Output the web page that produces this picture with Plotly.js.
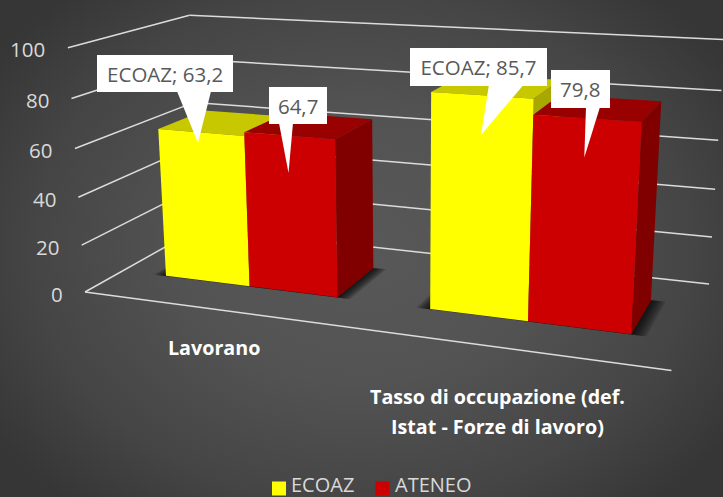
<!DOCTYPE html>
<html><head><meta charset="utf-8">
<script src="https://cdn.plot.ly/plotly-3.0.1.min.js"></script>
<style>
html,body{margin:0;padding:0;width:723px;height:497px;overflow:hidden;
background:radial-gradient(ellipse 440px 340px at 50% 50%,#585858 0%,#535353 40%,#454545 75%,#363636 100%);}
#c{width:723px;height:497px;}
</style></head><body><div id="c"></div>
<script>
// ---- data
const categories = ['Lavorano', 'Tasso di occupazione (def.<br>Istat - Forze di lavoro)'];
const seriesNames = ['ECOAZ', 'ATENEO'];
const ecoaz = [63.2, 85.7];
const ateneo = [64.7, 79.8];
const valueTicks = [0, 20, 40, 60, 80, 100];
const axisMax = 100;

// ---- styling
const front = ['#ffff00', '#cc0000'];
const top_ = ['#c8c800', '#990000'];
const side = ['#a8a800', '#800000'];
const gridColor = '#dcdcdc';
const FONT = '"Open Sans", Lato, sans-serif';

// ---- 3-D box geometry (Excel style: gap width 100 %, depth band)
const groupW = 1 / categories.length, barW = groupW / 3;
const d1 = 0.305, d2 = 0.71, xShift = 0.005;

// perspective projection: world (x along categories 0-1, y depth 0-1, z value share 0-1) to page px
function proj(x, y, z) {
  const W = 1 - 0.1545 * x + 0.1556 * y - 0.05 * z;
  return [(479.8 * x + 145 * y - 20.5 * z + 85) / W, (20.8 * x - 28.5 * y - 246.7 * z + 292) / W];
}
function poly(pts, color) {
  const p = pts.map(q => proj(q[0], q[1], q[2]));
  return {
    type: 'scatter', mode: 'lines', x: p.map(a => a[0]).concat(p[0][0]), y: p.map(a => a[1]).concat(p[0][1]),
    fill: 'toself', fillcolor: color, line: { width: 0 }, hoverinfo: 'skip', showlegend: false
  };
}
function seg(a, b) {
  const p = proj(a[0], a[1], a[2]), q = proj(b[0], b[1], b[2]);
  return { type: 'scatter', mode: 'lines', x: [p[0], q[0]], y: [p[1], q[1]], line: { color: gridColor, width: 1.5 }, hoverinfo: 'skip', showlegend: false };
}

const traces = [];
// gridlines on the two walls
valueTicks.forEach(t => {
  const z = t / axisMax;
  traces.push(seg([0, 0, z], [0, 1, z]));
  traces.push(seg([0, 1, z], [1, 1, z]));
});
traces.push(seg([0, 0, 0], [1.005, 0, 0]));

// floor shadows: soft falloff from stacked translucent footprints
const shadowSteps = [0.024, 0.021, 0.018, 0.015, 0.012, 0.009, 0.006, 0.003];
categories.forEach((c, i) => {
  const cx = (i + 0.5) * groupW + xShift;
  shadowSteps.forEach(e => {
    const a = cx - barW - e, b = cx + barW + e, f = d1 - e * 0.2, g = d2 + e * 0.3;
    traces.push(poly([[a, f, 0], [b, f, 0], [b, g, 0], [a, g, 0]], 'rgba(0,0,0,0.13)'));
  });
});

// bars
categories.forEach((c, i) => {
  const cx = (i + 0.5) * groupW + xShift;
  [ecoaz, ateneo].forEach((vals, s) => {
    const a = cx - barW + s * barW, b = a + barW, z = vals[i] / axisMax;
    traces.push(poly([[b, d1, 0], [b, d2, 0], [b, d2, z], [b, d1, z]], side[s]));
    traces.push(poly([[a, d1, z], [b, d1, z], [b, d2, z], [a, d2, z]], top_[s]));
    traces.push(poly([[a, d1, 0], [b, d1, 0], [b, d1, z], [a, d1, z]], front[s]));
  });
});

// callouts: one per bar, in reading order
const fmt = v => String(v).replace('.', ',');
const labelTexts = [
  seriesNames[0] + '; ' + fmt(ecoaz[0]), fmt(ateneo[0]),
  seriesNames[0] + '; ' + fmt(ecoaz[1]), fmt(ateneo[1])
];
const boxL = [96.7, 268.7, 410, 551], boxR = [233, 327, 547, 609.7];
const boxT = [55, 87, 47.7, 70.3], boxB = [92.3, 124, 85.3, 108];
const tailA = [177, 279, 489, 586], tailB = [211, 293, 524, 600];
const tipX = [198, 288.5, 481, 584.3], tipY = [143, 173, 135, 157.5];
const annotations = [];
labelTexts.forEach((t, i) => {
  traces.push({
    type: 'scatter', mode: 'lines', x: [tailA[i], tailB[i], tipX[i], tailA[i]], y: [boxB[i] - 1, boxB[i] - 1, tipY[i], boxB[i] - 1],
    fill: 'toself', fillcolor: '#ffffff', line: { width: 0 }, hoverinfo: 'skip', showlegend: false
  });
  annotations.push({
    xref: 'x', yref: 'y', x: (boxL[i] + boxR[i]) / 2, y: (boxT[i] + boxB[i]) / 2, xanchor: 'center', yanchor: 'middle',
    text: t, showarrow: false, bgcolor: '#ffffff', width: boxR[i] - boxL[i], height: boxB[i] - boxT[i], borderpad: 0, borderwidth: 0,
    font: { family: FONT, size: 20.5, color: '#595959' }
  });
});

// value axis labels
valueTicks.forEach(t => {
  const p = proj(0, 0, t / axisMax);
  annotations.push({
    xref: 'x', yref: 'y', x: p[0] - 22.5, y: p[1] + 1.5, xanchor: 'right', yanchor: 'middle', showarrow: false, borderpad: 0, borderwidth: 0,
    text: String(t), font: { family: FONT, size: 20.5, color: '#d9d9d9' }
  });
});

// category labels
const catX = [214, 497.5], catY = [347, 396];
categories.forEach((c, i) => {
  c.split('<br>').forEach((line, k) => annotations.push({
    xref: 'x', yref: 'y', x: catX[i], y: catY[i] + k * 30, xanchor: 'center', yanchor: 'middle', showarrow: false, borderpad: 0, borderwidth: 0,
    text: line, font: { family: FONT, size: 19.7, color: '#ffffff', weight: 700 }
  }));
});

// legend
const legSwatchX = [279, 382.5], legTextX = [291, 395];
seriesNames.forEach((n, s) => {
  traces.push({
    type: 'scatter', mode: 'markers', name: n, x: [legSwatchX[s]], y: [488.5], showlegend: false, hoverinfo: 'skip',
    marker: { symbol: 'square', size: 14, color: front[s], line: { width: 0 } }
  });
  annotations.push({
    xref: 'x', yref: 'y', x: legTextX[s], y: 484, xanchor: 'left', yanchor: 'middle', showarrow: false, borderpad: 0, borderwidth: 0,
    text: n, font: { family: FONT, size: 20, color: '#d9d9d9' }
  });
});

Plotly.newPlot('c', traces, {
  width: 723, height: 497, margin: { l: 0, r: 0, t: 0, b: 0 },
  paper_bgcolor: 'rgba(0,0,0,0)', plot_bgcolor: 'rgba(0,0,0,0)', showlegend: false,
  xaxis: { range: [0, 723], visible: false, fixedrange: true },
  yaxis: { range: [497, 0], visible: false, fixedrange: true },
  annotations: annotations
}, { displayModeBar: false, staticPlot: true });
</script></body></html>
